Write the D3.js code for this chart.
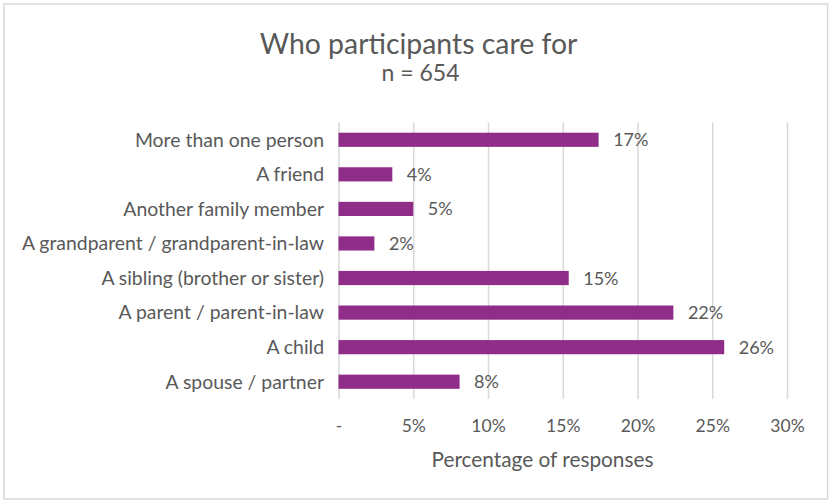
<!DOCTYPE html>
<html><head><meta charset="utf-8">
<script src="https://cdn.jsdelivr.net/npm/d3@7"></script>
<style>
  body { margin: 0; background: #fff; }
  text { font-family: Lato, "Open Sans", sans-serif; fill: #595959; }
</style>
</head><body>
<svg id="chart" width="830" height="500"></svg>
<script>
// Who participants care for (percentage of responses, n = 654)
const categories = [
  "More than one person",
  "A friend",
  "Another family member",
  "A grandparent / grandparent-in-law",
  "A sibling (brother or sister)",
  "A parent / parent-in-law",
  "A child",
  "A spouse / partner"
];
const values = [17.4, 3.6, 5.0, 2.4, 15.4, 22.4, 25.8, 8.1];
const tickValues = [0, 5, 10, 15, 20, 25, 30];
const tickLabels = ["-", "5%", "10%", "15%", "20%", "25%", "30%"];

const title = "Who participants care for";
const subtitle = "n = 654";
const xTitle = "Percentage of responses";

const svg = d3.select("#chart");
const W = 830, H = 500;
const plot = { left: 338.5, right: 787, top: 122.5, bottom: 399 };
const barColor = "#8F2D89";
const gridColor = "#d9d9d9";

// outer frame
svg.append("rect")
  .attr("x", 4).attr("y", 4)
  .attr("width", W - 6.5).attr("height", H - 5)
  .attr("fill", "#fff")
  .attr("stroke", gridColor).attr("stroke-width", 1.5);

const x = d3.scaleLinear().domain([0, 30]).range([plot.left, plot.right]);
const y = d3.scaleBand().domain(categories)
  .range([plot.top, plot.bottom])
  .paddingInner(0.59).paddingOuter(0.295);

// vertical gridlines
const grid = svg.append("g")
  .attr("transform", `translate(0,${plot.bottom})`)
  .call(d3.axisBottom(x).tickValues(tickValues)
    .tickSize(-(plot.bottom - plot.top)).tickFormat(""));
grid.select(".domain").remove();
grid.selectAll(".tick line").attr("stroke", gridColor).attr("stroke-width", 1.5);

// x tick labels
const xAxis = svg.append("g")
  .attr("transform", `translate(0,${plot.bottom})`)
  .call(d3.axisBottom(x).tickValues(tickValues).tickSize(0).tickPadding(0)
    .tickFormat((d, i) => tickLabels[i]));
xAxis.select(".domain").remove();
xAxis.selectAll(".tick text")
  .attr("y", 32.5).attr("dy", null)
  .style("font-size", "17.5px")
  .style("font-family", "Lato, sans-serif")
  .attr("fill", "#595959");

// bars
svg.append("g").selectAll("rect")
  .data(values)
  .join("rect")
  .attr("x", x(0))
  .attr("y", (d, i) => y(categories[i]))
  .attr("width", d => x(d) - x(0))
  .attr("height", y.bandwidth())
  .attr("fill", barColor);

// value labels
svg.append("g").selectAll("text")
  .data(values)
  .join("text")
  .attr("x", d => x(d) + 14.5)
  .attr("y", (d, i) => y(categories[i]) + y.bandwidth() / 2)
  .attr("dy", "0.36em")
  .style("font-size", "18px")
  .text(d => Math.round(d) + "%");

// category labels
const yAxis = svg.append("g")
  .attr("transform", `translate(${plot.left - 14.5},0)`)
  .call(d3.axisLeft(y).tickSize(0).tickPadding(0));
yAxis.select(".domain").remove();
yAxis.selectAll(".tick text")
  .attr("dy", "0.35em")
  .style("font-size", "19.4px")
  .style("font-family", "Lato, sans-serif")
  .attr("fill", "#595959");

// titles
svg.append("text")
  .attr("x", 418.5).attr("y", 53.5)
  .attr("text-anchor", "middle")
  .style("font-size", "28.4px")
  .text(title);
svg.append("text")
  .attr("x", 420.5).attr("y", 81)
  .attr("text-anchor", "middle")
  .style("font-size", "23px")
  .text(subtitle);
svg.append("text")
  .attr("x", 542.5).attr("y", 466.5)
  .attr("text-anchor", "middle")
  .style("font-size", "20.8px")
  .text(xTitle);
</script></body></html>
